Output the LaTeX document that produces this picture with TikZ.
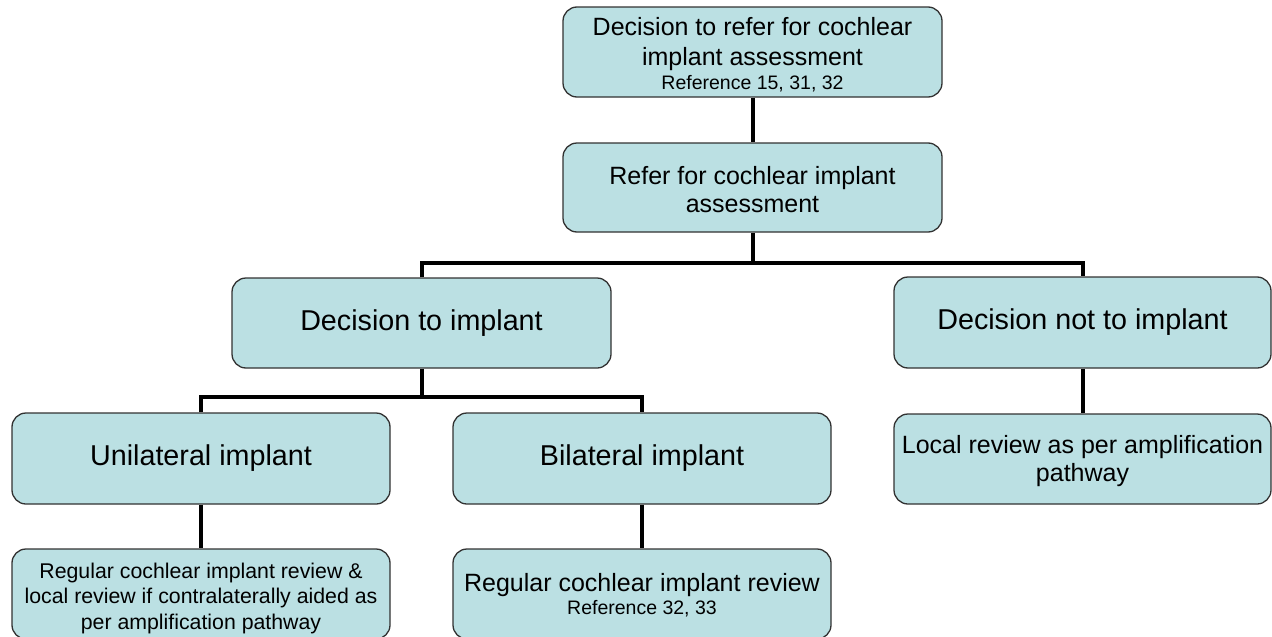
\documentclass[tikz,border=0pt]{standalone}
\usepackage{fontspec}
\setmainfont{Liberation Sans}
\definecolor{boxfill}{RGB}{187,224,227}
\definecolor{boxline}{RGB}{50,50,50}
\newcommand{\fsz}[2]{\fontsize{#1}{#2}\selectfont}
\tikzset{
  flowbox/.style={draw=boxline, line width=1.3pt, fill=boxfill, rounded corners=14pt,
    inner sep=0pt, align=center, anchor=center},
  bigtxt/.style={font=\fsz{28.7}{32}},
  medtxt/.style={font=\fsz{25}{28}},
  smalltxt/.style={font=\fsz{21.3}{25.5}},
  link/.style={draw=black, line width=4pt}
}
\begin{document}
\begin{tikzpicture}[x=1pt,y=-1pt]
\useasboundingbox (0,0) rectangle (1272,637);
% top row
\node[flowbox, medtxt, minimum width=379pt, minimum height=90pt] (n1) at (752.5,52)
  {\rule{0pt}{24pt}Decision to refer for cochlear\\[2pt]implant assessment\\[-4pt]{\fsz{19.5}{23}Reference 15, 31, 32}};
\node[flowbox, medtxt, minimum width=379pt, minimum height=89pt] (n2) at (752.5,187.5)
  {\rule{0pt}{22pt}Refer for cochlear implant\\assessment};
% second row
\node[flowbox, bigtxt, minimum width=379pt, minimum height=90pt] (dimp) at (421.5,323)
  {Decision to implant};
\node[flowbox, bigtxt, minimum width=377pt, minimum height=91pt] (dnot) at (1082.5,322.5)
  {Decision not to implant};
% third row
\node[flowbox, bigtxt, minimum width=378pt, minimum height=91pt] (uni) at (201,458.5)
  {Unilateral implant};
\node[flowbox, bigtxt, minimum width=378pt, minimum height=91pt] (bil) at (642,458.5)
  {Bilateral implant};
\node[flowbox, medtxt, minimum width=377pt, minimum height=90pt] (lrev) at (1082.5,459)
  {\rule{0pt}{22pt}Local review as per amplification\\pathway};
% bottom row
\node[flowbox, smalltxt, minimum width=378pt, minimum height=90pt] (ureg) at (201,594)
  {\rule{0pt}{24pt}Regular cochlear implant review \&\\local review if contralaterally aided as\\per amplification pathway};
\node[flowbox, medtxt, minimum width=378pt, minimum height=90pt] (breg) at (642,594)
  {\rule{0pt}{21pt}Regular cochlear implant review\\[-5pt]{\fsz{19.5}{23}Reference 32, 33}};
% connectors
\coordinate (j1) at (0,263);
\coordinate (j2) at (0,397);
\draw[link] (n1.south) -- (n2.north);
\draw[link] (n2.south) -- (n2.south |- j1);
\draw[link] (dimp.north) -- (dimp.north |- j1) -- (dnot.north |- j1) -- (dnot.north);
\draw[link] (dimp.south) -- (dimp.south |- j2);
\draw[link] (uni.north) -- (uni.north |- j2) -- (bil.north |- j2) -- (bil.north);
\draw[link] (uni.south) -- (ureg.north);
\draw[link] (bil.south) -- (breg.north);
\draw[link] (dnot.south) -- (lrev.north);
\end{tikzpicture}
\end{document}
